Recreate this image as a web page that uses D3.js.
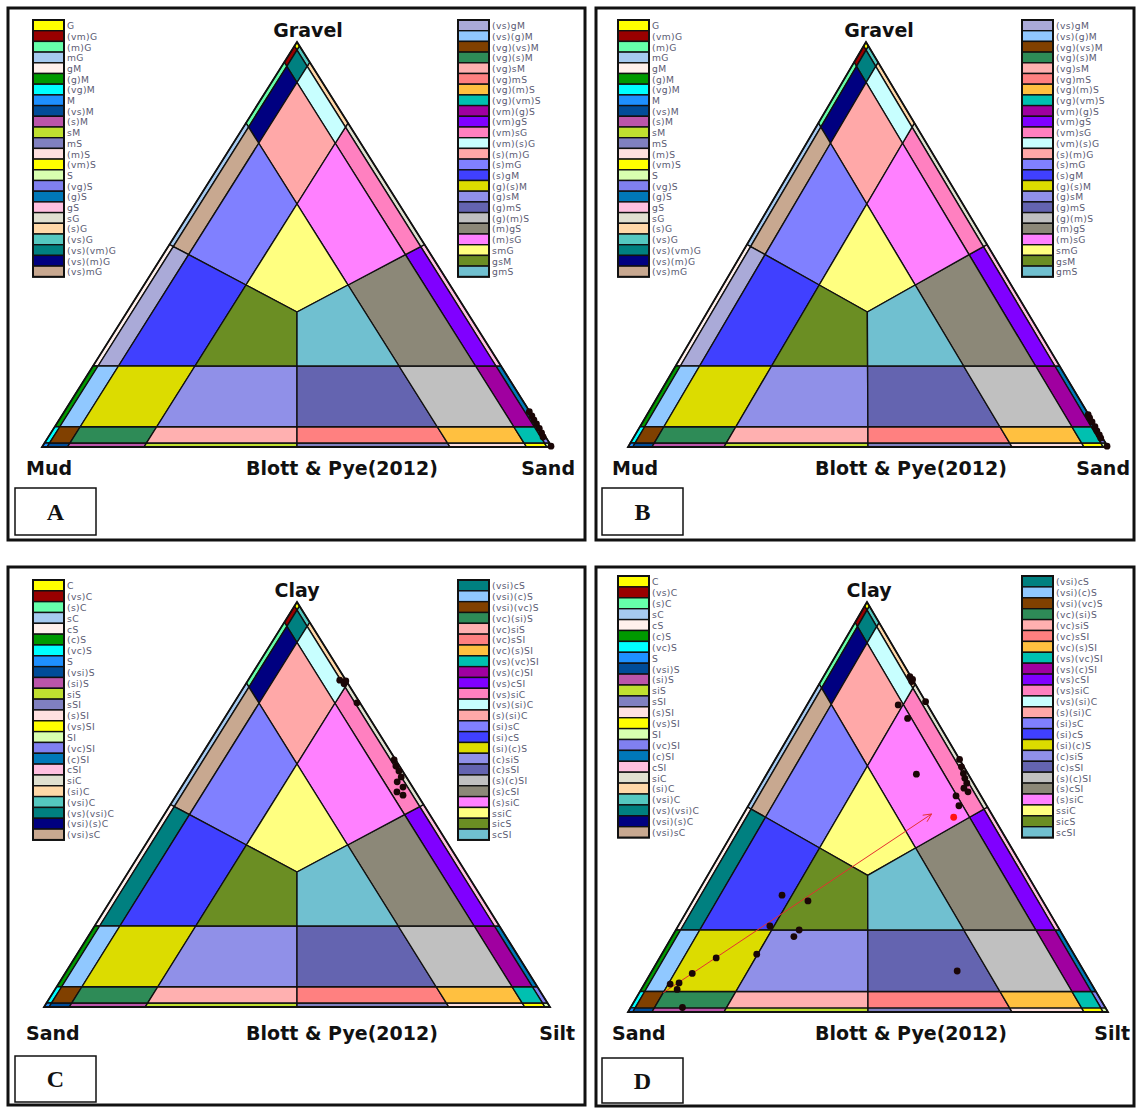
<!DOCTYPE html>
<html>
<head>
<meta charset="utf-8">
<script src="https://cdn.jsdelivr.net/npm/d3@7"></script>
<style>
  body { margin: 0; background: #fff; }
  svg { display: block; }
</style>
</head>
<body>
<svg id="chart" width="1136" height="1108"></svg>
<script>
// Class limits (fraction) used by the Blott & Pye (2012) ternary scheme
const classBounds = [0, 0.01, 0.05, 0.20, 1];

// Legend names, gravel–sand–mud diagrams
const legendLeftGSM = ["G","(vm)G","(m)G","mG","gM","(g)M","(vg)M","M","(vs)M","(s)M","sM","mS","(m)S","(vm)S","S","(vg)S","(g)S","gS","sG","(s)G","(vs)G","(vs)(vm)G","(vs)(m)G","(vs)mG"];
const legendRightGSM = ["(vs)gM","(vs)(g)M","(vg)(vs)M","(vg)(s)M","(vg)sM","(vg)mS","(vg)(m)S","(vg)(vm)S","(vm)(g)S","(vm)gS","(vm)sG","(vm)(s)G","(s)(m)G","(s)mG","(s)gM","(g)(s)M","(g)sM","(g)mS","(g)(m)S","(m)gS","(m)sG","smG","gsM","gmS"];

// Legend names, clay–sand–silt diagrams
const legendLeftCSS = ["C","(vs)C","(s)C","sC","cS","(c)S","(vc)S","S","(vsi)S","(si)S","siS","sSI","(s)SI","(vs)SI","SI","(vc)SI","(c)SI","cSI","siC","(si)C","(vsi)C","(vs)(vsi)C","(vsi)(s)C","(vsi)sC"];
const legendRightCSS = ["(vsi)cS","(vsi)(c)S","(vsi)(vc)S","(vc)(si)S","(vc)siS","(vc)sSI","(vc)(s)SI","(vs)(vc)SI","(vs)(c)SI","(vs)cSI","(vs)siC","(vs)(si)C","(s)(si)C","(si)sC","(si)cS","(si)(c)S","(c)siS","(c)sSI","(s)(c)SI","(s)cSI","(s)siC","ssiC","sicS","scSI"];

// Class codes per legend entry: top, left, right class (0:<1%,1:1-5%,2:5-20%,3:>=20%) + dominant corner
const leftCodes = ["300t","310t","320t","330t","330l","230l","130l","030l","031l","032l","033l","033r","023r","013r","003r","103r","203r","303r","303t","302t","301t","311t","321t","331t"];
const rightCodes = ["331l","231l","131l","132l","133l","133r","123r","113r","213r","313r","313t","312t","322t","332t","332l","232l","233l","233r","223r","323r","323t","333t","333l","333r"];

const leftColors = ["#ffff00","#990000","#66ffaa","#a6caf0","#fff0ec","#009900","#00ffff","#1e90ff","#004c99","#bb55aa","#c0e030","#8080c0","#ffe0e0","#ffff00","#d8ffb0","#8080f0","#0078b8","#ffc0e0","#e0e0d0","#ffd8a8","#55c8c0","#008080","#000080","#c8a890"];
const rightColorsGSM = ["#aaaad8","#90c8ff","#804000","#2e8b57","#ffb0b0","#ff8080","#ffc040","#00c0b0","#a000a0","#8000ff","#ff80c0","#c8ffff","#ffa8a8","#8080ff","#4040ff","#dcdc00","#9090e8","#6464b0","#c0c0c0","#8c8878","#ff80ff","#ffff80","#6b8e23","#70c0d0"];
const rightColorsCSS = ["#008080","#90c8ff","#804000","#2e8b57","#ffb0b0","#ff8080","#ffc040","#00c0b0","#a000a0","#8000ff","#ff80c0","#c8ffff","#ffa8a8","#8080ff","#4040ff","#dcdc00","#9090e8","#6464b0","#c0c0c0","#8c8878","#ff80ff","#ffff80","#6b8e23","#70c0d0"];

// Samples, percent [top, left, right]
const samplesA = [[8.7,0.1,91.2],[7.7,0.1,92.2],[6.7,0.2,93.1],[5.7,0.2,94.1],[4.6,0.2,95.2],[3.5,0.3,96.2],[2.5,0.5,97.0],[0.2,0.1,99.7]];
const samplesB = [[8.0,0.1,91.9],[7.2,0.2,92.6],[6.2,0.2,93.6],[5.0,0.2,94.8],[4.0,0.3,95.7],[3.0,0.3,96.7],[2.2,0.4,97.4],[0.2,0.1,99.7]];
const samplesC = [[80.7,1.2,18.1],[79.8,0.8,19.4],[80.5,0.1,19.4],[75.1,0.6,24.3],[61.0,0.3,38.7],[59.5,0.7,39.8],[58.3,0.7,41.0],[56.8,1.0,42.2],[55.6,2.4,42.0],[54.3,1.9,43.8],[53.1,3.7,43.2],[52.3,2.9,44.8]];
const samplesD = [[28.5,53.6,17.9],[27.1,48.9,24.0],[21.0,59.9,19.1],[20.0,54.3,25.7],[18.4,56.2,25.4],[14.1,66.1,19.8],[13.2,75.0,11.8],[9.4,81.9,8.7],[7.1,85.8,7.1],[6.8,87.8,5.4],[5.5,87.0,7.5],[1.1,88.1,10.8],
  [81.8,0.2,18.0],[80.6,0.4,19.0],[81.1,0.0,18.9],[75.7,0.0,24.3],[74.9,6.1,19.0],[71.6,5.8,22.6],[58.0,10.8,31.2],[61.6,0.0,38.4],[59.8,0.5,39.7],[58.2,0.9,40.9],[57.0,1.2,41.8],[55.8,1.4,42.8],[54.6,2.6,42.8],[53.7,2.2,44.1],[52.7,5.2,42.1],[50.3,5.8,43.9],[10.0,26.4,63.6]];
const highlightD = [[47.5,8.3,44.2]];
const trendD = [[4.7,90.3,5.0],[48.3,12.5,39.2]];

const panels = [
  { letter:"A", frame:[8,8,585,540], tri:{left:42, right:552, base:447, apexX:297, apexY:42},
    names:["Gravel","Mud","Sand"], leg:[legendLeftGSM, legendRightGSM], rc:rightColorsGSM,
    legX:[33,458], legY:20, pitch:10.7, labelY:[37,475], topX:308, leftX:26, rightX:575, creditX:342,
    box:[15,488,96,535], samples:samplesA },
  { letter:"B", frame:[596,8,1134,540], tri:{left:628, right:1108, base:447, apexX:866, apexY:42},
    names:["Gravel","Mud","Sand"], leg:[legendLeftGSM, legendRightGSM], rc:rightColorsGSM,
    legX:[618,1022], legY:20, pitch:10.7, labelY:[37,475], topX:879, leftX:612, rightX:1130, creditX:911,
    box:[602,488,683,535], samples:samplesB },
  { letter:"C", frame:[8,567,585,1105], tri:{left:44, right:550, base:1007, apexX:297, apexY:602},
    names:["Clay","Sand","Silt"], leg:[legendLeftCSS, legendRightCSS], rc:rightColorsCSS,
    legX:[33,458], legY:580, pitch:10.83, labelY:[597,1040], topX:297, leftX:26, rightX:575, creditX:342,
    box:[15,1056,96,1102], samples:samplesC },
  { letter:"D", frame:[596,567,1134,1106], tri:{left:628, right:1108, base:1012, apexX:867, apexY:602},
    names:["Clay","Sand","Silt"], leg:[legendLeftCSS, legendRightCSS], rc:rightColorsCSS,
    legX:[618,1022], legY:576, pitch:10.9, labelY:[597,1040], topX:869, leftX:612, rightX:1130, creditX:911,
    box:[602,1058,683,1103], samples:samplesD, highlight:highlightD, trend:trendD }
];

// Sutherland–Hodgman clip of a barycentric polygon against f(v) >= 0
function clip(poly, f) {
  const out = [];
  for (let i = 0; i < poly.length; i++) {
    const a = poly[i], b = poly[(i + 1) % poly.length];
    const fa = f(a), fb = f(b);
    if (fa >= 0) out.push(a);
    if ((fa >= 0) !== (fb >= 0)) {
      const u = fa / (fa - fb);
      out.push(a.map((v, k) => v + u * (b[k] - v)));
    }
  }
  return out;
}

// Polygon (barycentric [top,left,right]) of one class code
function regionPolygon(code) {
  const cls = [+code[0], +code[1], +code[2]];
  const noun = "tlr".indexOf(code[3]);
  let poly = [[1,0,0],[0,1,0],[0,0,1]];
  cls.forEach((k, i) => {
    if (k > 0) poly = clip(poly, v => v[i] - classBounds[k]);
    if (k < 3) poly = clip(poly, v => classBounds[k + 1] - v[i]);
  });
  [0,1,2].forEach(i => { if (i !== noun) poly = clip(poly, v => v[noun] - v[i]); });
  return poly;
}

const svg = d3.select("#chart");

panels.forEach(p => {
  const g = svg.append("g");
  const T = p.tri;
  const xs = d3.scaleLinear().domain([0, 1]).range([T.left, T.right]);
  const ys = d3.scaleLinear().domain([0, 1]).range([T.base, T.apexY]);
  const k = (T.apexX - T.left) / (T.right - T.left);
  const proj = v => [xs(v[2] + v[0] * k), ys(v[0])];
  const line = d3.line().curve(d3.curveLinearClosed);

  // frame
  g.append("rect")
    .attr("x", p.frame[0]).attr("y", p.frame[1])
    .attr("width", p.frame[2] - p.frame[0]).attr("height", p.frame[3] - p.frame[1])
    .attr("fill", "#fff").attr("stroke", "#111").attr("stroke-width", 3);

  // classification regions
  const regions = [];
  leftCodes.forEach((c, i) => regions.push({ code: c, color: leftColors[i] }));
  rightCodes.forEach((c, i) => regions.push({ code: c, color: p.rc[i] }));
  g.append("g").selectAll("path")
    .data(regions.map(r => ({ color: r.color, poly: regionPolygon(r.code) })).filter(r => r.poly.length >= 3))
    .join("path")
    .attr("d", r => line(r.poly.map(proj)))
    .attr("fill", r => r.color)
    .attr("stroke", "#111")
    .attr("stroke-width", 1.4)
    .attr("stroke-linejoin", "round");

  // outline
  g.append("path")
    .attr("d", line([[1,0,0],[0,1,0],[0,0,1]].map(proj)))
    .attr("fill", "none").attr("stroke", "#111").attr("stroke-width", 1.8);

  // trend arrow
  if (p.trend) {
    const pts = p.trend.map(d => proj(d.map(v => v / 100)));
    const [a, b] = pts;
    g.append("line").attr("x1", a[0]).attr("y1", a[1]).attr("x2", b[0]).attr("y2", b[1])
      .attr("stroke", "#e53030").attr("stroke-width", 1);
    const ang = Math.atan2(b[1] - a[1], b[0] - a[0]);
    const hl = 9, hw = 0.45;
    const h1 = [b[0] - hl * Math.cos(ang - hw), b[1] - hl * Math.sin(ang - hw)];
    const h2 = [b[0] - hl * Math.cos(ang + hw), b[1] - hl * Math.sin(ang + hw)];
    g.append("path").attr("d", `M${h1}L${b}L${h2}`).attr("fill", "none")
      .attr("stroke", "#e53030").attr("stroke-width", 1);
  }

  // samples
  g.append("g").selectAll("circle")
    .data(p.samples)
    .join("circle")
    .attr("cx", d => proj(d.map(v => v / 100))[0])
    .attr("cy", d => proj(d.map(v => v / 100))[1])
    .attr("r", 3.4)
    .attr("fill", "#1a0606");
  if (p.highlight) {
    g.append("g").selectAll("circle")
      .data(p.highlight)
      .join("circle")
      .attr("cx", d => proj(d.map(v => v / 100))[0])
      .attr("cy", d => proj(d.map(v => v / 100))[1])
      .attr("r", 3.4)
      .attr("fill", "#ff1010");
  }

  // legends
  [0, 1].forEach(side => {
    const names = p.leg[side];
    const colors = side === 0 ? leftColors : p.rc;
    const lg = g.append("g");
    lg.selectAll("rect").data(names).join("rect")
      .attr("x", p.legX[side]).attr("y", (d, i) => p.legY + i * p.pitch)
      .attr("width", 31).attr("height", p.pitch)
      .attr("fill", (d, i) => colors[i]).attr("stroke", "#111").attr("stroke-width", 1.4);
    lg.append("rect")
      .attr("x", p.legX[side]).attr("y", p.legY)
      .attr("width", 31).attr("height", p.pitch * names.length)
      .attr("fill", "none").attr("stroke", "#111").attr("stroke-width", 2);
    lg.selectAll("text").data(names).join("text")
      .attr("x", p.legX[side] + 34).attr("y", (d, i) => p.legY + i * p.pitch + p.pitch - 1.6)
      .attr("font-family", "DejaVu Sans, sans-serif").attr("font-size", 9.2)
      .attr("letter-spacing", 0.35)
      .attr("fill", "#5a5a72")
      .text(d => d);
  });

  // corner labels
  const lab = (x, y, t, anchor) => g.append("text").attr("x", x).attr("y", y)
    .attr("text-anchor", anchor).attr("font-family", "DejaVu Sans, sans-serif")
    .attr("font-weight", "bold").attr("font-size", 19).attr("fill", "#111").text(t);
  lab(p.topX, p.labelY[0], p.names[0], "middle");
  lab(p.leftX, p.labelY[1], p.names[1], "start");
  lab(p.rightX, p.labelY[1], p.names[2], "end");
  lab(p.creditX, p.labelY[1], "Blott & Pye(2012)", "middle");

  // panel letter
  g.append("rect").attr("x", p.box[0]).attr("y", p.box[1])
    .attr("width", p.box[2] - p.box[0]).attr("height", p.box[3] - p.box[1])
    .attr("fill", "#fff").attr("stroke", "#111").attr("stroke-width", 1.5);
  g.append("text").attr("x", (p.box[0] + p.box[2]) / 2).attr("y", (p.box[1] + p.box[3]) / 2 + 8)
    .attr("text-anchor", "middle").attr("font-family", "Liberation Serif, serif")
    .attr("font-weight", "bold").attr("font-size", 24).attr("fill", "#111").text(p.letter);
});
</script>
</body>
</html>
